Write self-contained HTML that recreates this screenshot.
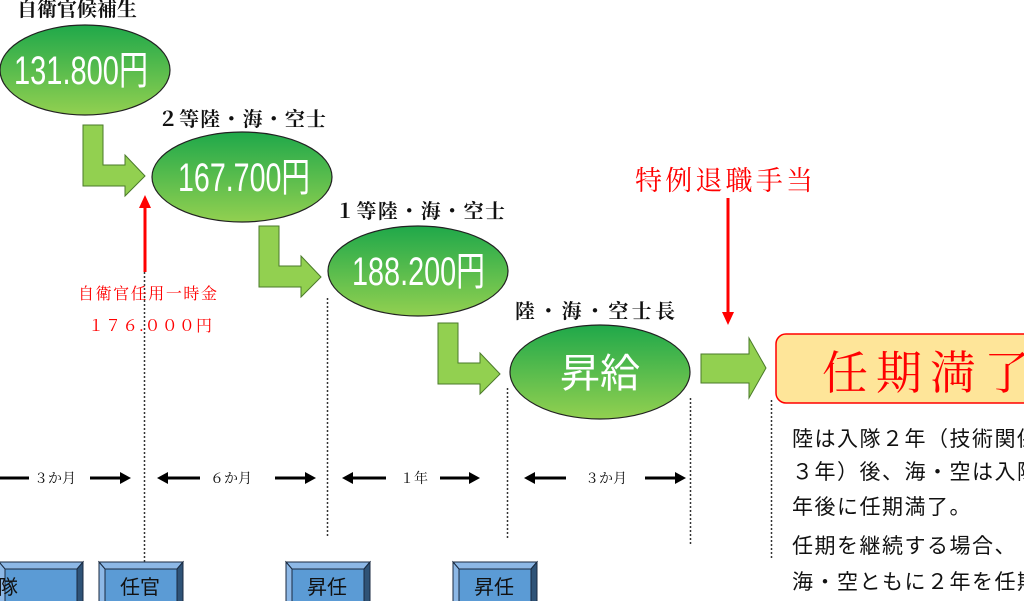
<!DOCTYPE html>
<html><head><meta charset="utf-8"><style>
html,body{margin:0;padding:0;background:#fff;width:1024px;height:601px;overflow:hidden}
svg{display:block}
.b{font-family:"Liberation Serif","Noto Serif CJK SC",serif;font-weight:bold;font-size:20px;fill:#111}
.w{font-family:"Liberation Sans","Noto Sans CJK JP",sans-serif;font-weight:normal;fill:#fff}
.r{font-family:"Liberation Serif","Noto Serif CJK SC",serif;fill:#f00}
.t{font-family:"Liberation Serif","Noto Serif CJK SC",serif;font-size:14px;fill:#111}
.m{font-family:"Liberation Sans","Noto Sans CJK JP",sans-serif;font-size:21px;fill:#111;letter-spacing:1.5px}
.bx{font-family:"Liberation Sans","Noto Sans CJK JP",sans-serif;font-size:20px;fill:#111}
</style></head><body>
<svg width="1024" height="601" viewBox="0 0 1024 601" xmlns="http://www.w3.org/2000/svg">
<defs>
<linearGradient id="g" x1="0" y1="0" x2="0" y2="1">
<stop offset="0" stop-color="#1fa84a"/><stop offset="1" stop-color="#92d050"/></linearGradient>
</defs>
<g stroke="#333" stroke-width="1.5" stroke-dasharray="2,2">
<line x1="144.5" y1="272" x2="144.5" y2="565"/>
<line x1="327.5" y1="298" x2="327.5" y2="538"/>
<line x1="507.5" y1="388" x2="507.5" y2="540"/>
<line x1="690.5" y1="398" x2="690.5" y2="545"/>
<line x1="771.5" y1="400" x2="771.5" y2="560"/>
</g>
<text x="17" y="16" class="b" textLength="120">自衛官候補生</text>
<text x="158" y="126" class="b" textLength="168">２等陸・海・空士</text>
<text x="335" y="218" class="b" textLength="170">１等陸・海・空士</text>
<text x="515" y="318" class="b" textLength="160">陸・海・空士長</text>
<g fill="#92d050" stroke="#4a7a2a" stroke-width="1">
<path d="M83,125 H103 V165 H125 V155 L145,176 L125,196 V186 H83 Z"/>
<path d="M259,226 H279 V266 H301 V256 L321,277 L301,297 V287 H259 Z"/>
<path d="M438,323 H458 V363 H480 V353 L500,374 L480,394 V384 H438 Z"/>
<path d="M701,354 H749 V338 L766,368 L749,398 V383 H701 Z"/>
</g>
<g fill="url(#g)" stroke="#222" stroke-width="1.2">
<ellipse cx="85" cy="70" rx="85" ry="45"/>
<ellipse cx="242" cy="177" rx="90" ry="45"/>
<ellipse cx="418" cy="271" rx="90" ry="45"/>
<ellipse cx="600" cy="372" rx="90" ry="47"/>
</g>
<text x="14" y="84" class="w" font-size="40" textLength="134" lengthAdjust="spacingAndGlyphs">131.800円</text>
<text x="178" y="191" class="w" font-size="40" textLength="132" lengthAdjust="spacingAndGlyphs">167.700円</text>
<text x="352" y="285" class="w" font-size="40" textLength="133" lengthAdjust="spacingAndGlyphs">188.200円</text>
<text x="600" y="387" font-family="Liberation Sans,Noto Sans CJK JP,sans-serif" font-size="40" fill="#fff" text-anchor="middle">昇給</text>
<line x1="145" y1="272" x2="145" y2="206" stroke="#f00" stroke-width="3"/>
<path d="M139,208 L145,195 L151,208 Z" fill="#f00"/>
<text x="78" y="299" class="r" font-size="16" textLength="139">自衛官任用一時金</text>
<text x="88" y="331" class="r" font-size="16" textLength="124">１７６.０００円</text>
<line x1="728" y1="198" x2="728" y2="314" stroke="#f00" stroke-width="3"/>
<path d="M722,312 L728,325 L734,312 Z" fill="#f00"/>
<text x="635" y="190" class="r" font-size="27" textLength="178">特例退職手当</text>
<rect x="776" y="334" width="270" height="69" rx="10" fill="#fee599" stroke="#f00" stroke-width="1.5"/>
<text x="822" y="389" class="r" font-size="46" letter-spacing="8">任期満了</text>
<g stroke="#000" stroke-width="3">
<line x1="0" y1="478" x2="29" y2="478"/>
<line x1="90" y1="478" x2="122" y2="478"/>
<line x1="166" y1="478" x2="200" y2="478"/>
<line x1="275" y1="478" x2="307" y2="478"/>
<line x1="351" y1="478" x2="386" y2="478"/>
<line x1="440" y1="478" x2="471" y2="478"/>
<line x1="533" y1="478" x2="566" y2="478"/>
<line x1="645" y1="478" x2="677" y2="478"/>
</g>
<g fill="#000">
<path d="M120,472 L131,478 L120,484 Z"/>
<path d="M168,472 L157,478 L168,484 Z"/>
<path d="M305,472 L316,478 L305,484 Z"/>
<path d="M353,472 L342,478 L353,484 Z"/>
<path d="M469,472 L480,478 L469,484 Z"/>
<path d="M535,472 L524,478 L535,484 Z"/>
<path d="M675,472 L686,478 L675,484 Z"/>
</g>
<text x="34" y="483" class="t">３か月</text>
<text x="210" y="483" class="t">６か月</text>
<text x="400" y="483" class="t">１年</text>
<text x="585" y="483" class="t">３か月</text>
<g stroke="#1a2a40" stroke-width="1">
<g transform="translate(-60,0)"><rect x="59" y="562" width="84" height="45" fill="#5b9bd5"/><path d="M59,562 H143 L137,569 H65 Z" fill="#8db8e6"/><path d="M59,562 L65,569 V607 H59 Z" fill="#8db8e6"/><path d="M143,562 L137,569 V607 H143 Z" fill="#2f5377"/></g>
<g><rect x="99" y="562" width="84" height="45" fill="#5b9bd5"/><path d="M99,562 H183 L177,569 H105 Z" fill="#8db8e6"/><path d="M99,562 L105,569 V607 H99 Z" fill="#8db8e6"/><path d="M183,562 L177,569 V607 H183 Z" fill="#2f5377"/></g>
<g transform="translate(187,0)"><rect x="99" y="562" width="84" height="45" fill="#5b9bd5"/><path d="M99,562 H183 L177,569 H105 Z" fill="#8db8e6"/><path d="M99,562 L105,569 V607 H99 Z" fill="#8db8e6"/><path d="M183,562 L177,569 V607 H183 Z" fill="#2f5377"/></g>
<g transform="translate(354,0)"><rect x="99" y="562" width="84" height="45" fill="#5b9bd5"/><path d="M99,562 H183 L177,569 H105 Z" fill="#8db8e6"/><path d="M99,562 L105,569 V607 H99 Z" fill="#8db8e6"/><path d="M183,562 L177,569 V607 H183 Z" fill="#2f5377"/></g>
</g>
<text x="-2" y="594" class="bx">隊</text>
<text x="120" y="594" class="bx">任官</text>
<text x="307" y="594" class="bx">昇任</text>
<text x="474" y="594" class="bx">昇任</text>
<text x="792" y="446" class="m">陸は入隊２年（技術関係</text>
<text x="792" y="479" class="m">３年）後、海・空は入隊</text>
<text x="792" y="514" class="m">年後に任期満了。</text>
<text x="792" y="553" class="m">任期を継続する場合、</text>
<text x="792" y="589" class="m">海・空ともに２年を任期</text>
</svg>
</body></html>
